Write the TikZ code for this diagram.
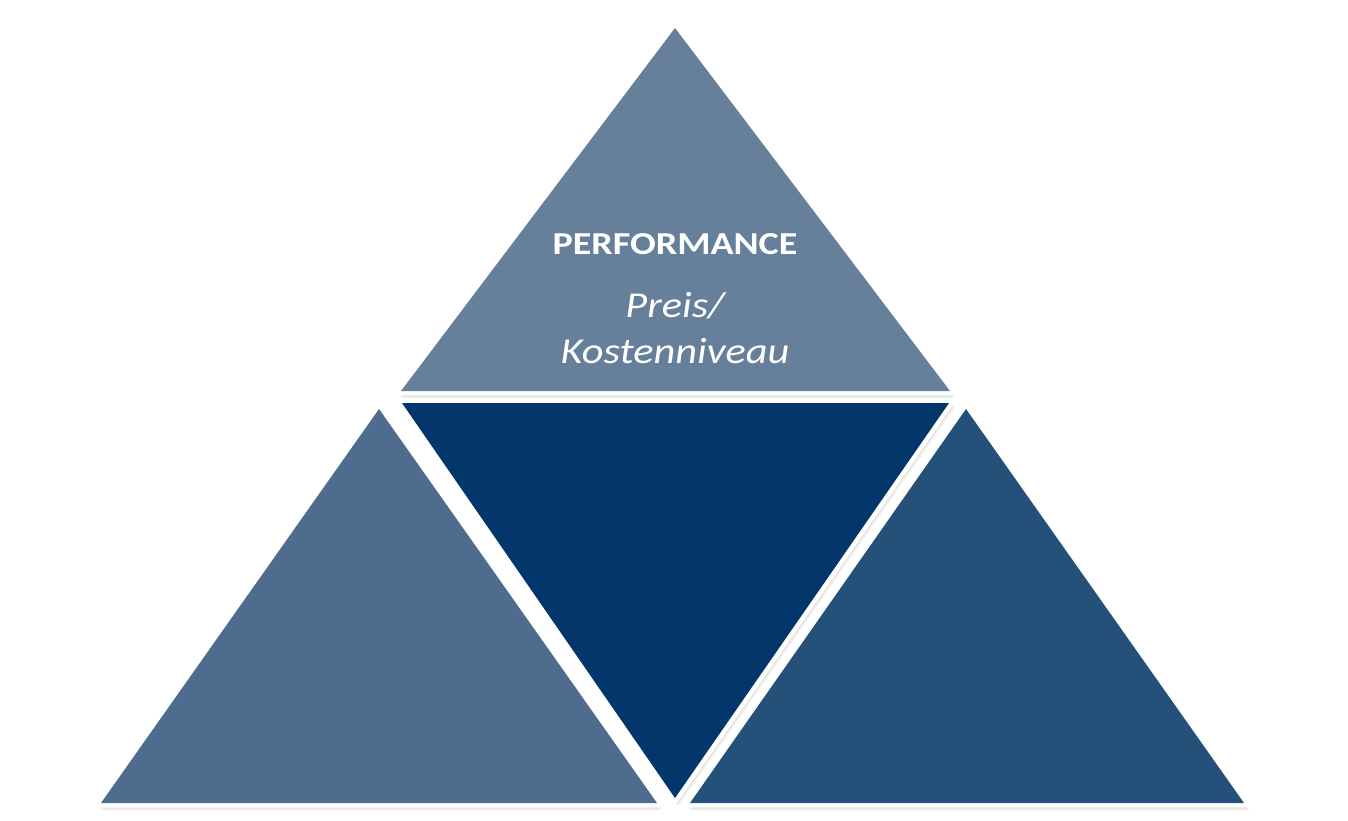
\documentclass[tikz,border=0pt]{standalone}
\usepackage{fontspec}
\setmainfont{Carlito}
\usetikzlibrary{shadows.blur}
\definecolor{ctop}{HTML}{667F9A}
\definecolor{cleft}{HTML}{4E6D8E}
\definecolor{cmid}{HTML}{03366B}
\definecolor{cright}{HTML}{245079}
\tikzset{
  tri/.style={draw=white, line width=9pt, line join=miter, miter limit=20, fill=#1,
    blur shadow={shadow xshift=2pt, shadow yshift=-4pt, shadow blur steps=6, shadow opacity=35, shadow blur radius=4pt},
    postaction={fill=#1}},
  lbl/.style={text=white, align=center, inner sep=0pt, anchor=base}
}
\begin{document}
\begin{tikzpicture}[x=1pt,y=-1pt]
\useasboundingbox (0,0) rectangle (1348,820);
% top
\path[tri=ctop] (675,28) -- (950,391) -- (401,391) -- cycle;
% bottom left
\path[tri=cleft] (379,409) -- (657,803) -- (101,803) -- cycle;
% bottom right
\path[tri=cright] (966,409) -- (1244,803) -- (690,803) -- cycle;
% middle inverted
\path[tri=cmid] (402,403) -- (949,403) -- (675,798) -- cycle;
\node[lbl, font=\fontsize{32}{36}\selectfont\bfseries] (perf) at (675,254) {\scalebox{1.19}[1]{PERFORMANCE}};
\node[lbl, font=\fontsize{36.5}{41}\selectfont\itshape] (preis) at (675,317) {\scalebox{1.16}[1]{Preis/}};
\node[lbl, font=\fontsize{36.5}{41}\selectfont\itshape] (kost) at (675,363) {\scalebox{1.16}[1]{Kostenniveau}};
\end{tikzpicture}
\end{document}
